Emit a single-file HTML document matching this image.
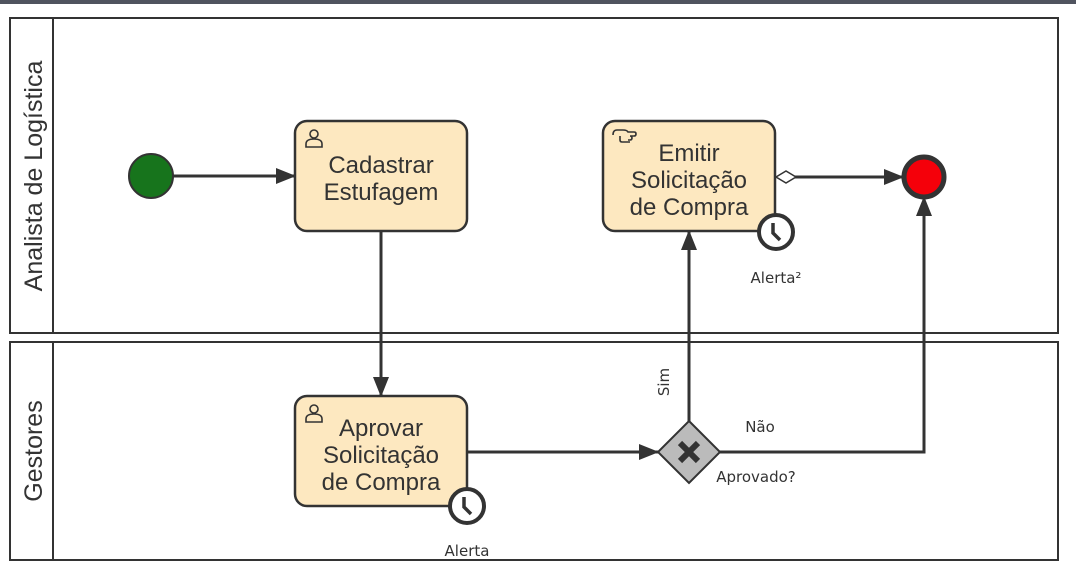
<!DOCTYPE html>
<html><head><meta charset="utf-8"><style>
html,body{margin:0;padding:0;background:#fff;width:1076px;height:571px;overflow:hidden}
text{font-family:"Liberation Sans",sans-serif;fill:#333}
.s{font-family:"DejaVu Sans",sans-serif}
</style></head><body>
<svg width="1076" height="571" viewBox="0 0 1076 571" xmlns="http://www.w3.org/2000/svg">
<defs>
<marker id="a" markerWidth="20" markerHeight="16" refX="19" refY="8" orient="auto" markerUnits="userSpaceOnUse"><path d="M0,0 L20,8 L0,16z" fill="#333"/></marker>
</defs>
<rect x="0" y="0" width="1076" height="4" fill="#50545f"/>
<g fill="none" stroke="#333" stroke-width="2">
<rect x="10" y="18" width="1048" height="315"/>
<line x1="53" y1="18" x2="53" y2="333"/>
<rect x="10" y="342" width="1048" height="218"/>
<line x1="53" y1="342" x2="53" y2="560"/>
</g>
<text transform="translate(42,176) rotate(-90)" text-anchor="middle" font-size="25">Analista de Logística</text>
<text transform="translate(42,451) rotate(-90)" text-anchor="middle" font-size="25">Gestores</text>
<g stroke="#333" stroke-width="3" fill="none">
<line x1="173" y1="176" x2="295" y2="176" marker-end="url(#a)"/>
<line x1="381" y1="231" x2="381" y2="396" marker-end="url(#a)"/>
<line x1="467" y1="452" x2="658" y2="452" marker-end="url(#a)"/>
<line x1="689" y1="421" x2="689" y2="231" marker-end="url(#a)"/>
<polyline points="720,452 924,452 924,197" marker-end="url(#a)"/>
<line x1="795" y1="177" x2="903" y2="177" marker-end="url(#a)"/>
</g>
<path d="M776,177 L786,171 L796,177 L786,183z" fill="#fff" stroke="#333" stroke-width="1.5"/>
<g fill="#fde8c0" stroke="#333" stroke-width="2.5">
<rect x="295" y="121" width="172" height="110" rx="12"/>
<rect x="603" y="121" width="172" height="110" rx="12"/>
<rect x="295" y="396" width="172" height="110" rx="12"/>
</g>
<g font-size="24" text-anchor="middle">
<text x="381" y="173">Cadastrar</text><text x="381" y="200">Estufagem</text>
<text x="689" y="161">Emitir</text><text x="689" y="188">Solicitação</text><text x="689" y="215">de Compra</text>
<text x="381" y="436">Aprovar</text><text x="381" y="463">Solicitação</text><text x="381" y="490">de Compra</text>
</g>
<g fill="none" stroke="#333" stroke-width="1.6">
<circle cx="314" cy="134" r="4"/><path d="M306,147 v-3 q0,-5 8,-5 q8,0 8,5 v3z"/>
<circle cx="314" cy="409" r="4"/><path d="M306,422 v-3 q0,-5 8,-5 q8,0 8,5 v3z"/>
<path d="M613,135 q0,-5 4,-5 h6 q4,0 5,2 h6 q2,0 2,2 q0,2 -2,2 h-4 q2,0 2,2 q0,2 -2,2 h-2 M620,136 v4 q0,2 2,2 h8"/>
</g>
<g>
<circle cx="776" cy="232" r="17" fill="#fff" stroke="#333" stroke-width="4"/>
<path d="M773,223 L773,233 L780,240" fill="none" stroke="#333" stroke-width="3.5"/>
<circle cx="467" cy="506" r="17" fill="#fff" stroke="#333" stroke-width="4"/>
<path d="M464,497 L464,507 L471,514" fill="none" stroke="#333" stroke-width="3.5"/>
</g>
<g font-size="15" text-anchor="middle" class="s">
<text class="s" x="776" y="283">Alerta²</text>
<text class="s" x="467" y="556">Alerta</text>
<text class="s" x="760" y="432">Não</text>
<text class="s" x="756" y="482">Aprovado?</text>
<text class="s" transform="translate(669,382) rotate(-90)" text-anchor="middle">Sim</text>
</g>
<circle cx="151" cy="176" r="22" fill="#17741c" stroke="#333" stroke-width="2"/>
<circle cx="924" cy="177" r="20" fill="#f5000a" stroke="#333" stroke-width="5"/>
<path d="M689,421 L720,452 L689,483 L658,452z" fill="#bbb" stroke="#333" stroke-width="2"/>
<path d="M680,443 L698,461 M698,443 L680,461" stroke="#333" stroke-width="6"/>
</svg>
</body></html>
